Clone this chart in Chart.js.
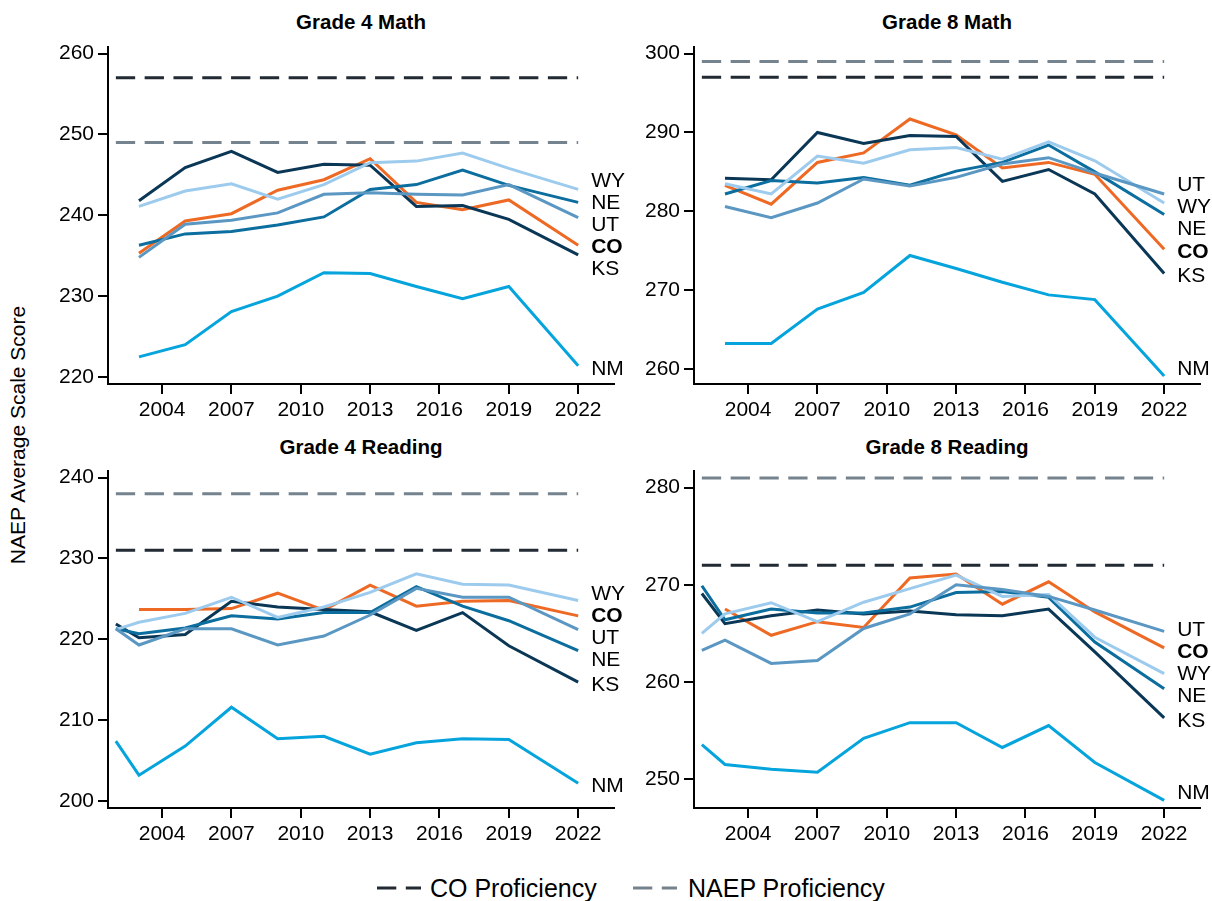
<!DOCTYPE html>
<html><head><meta charset="utf-8">
<script src="https://cdn.jsdelivr.net/npm/chart.js@4.4.1/dist/chart.umd.min.js"></script>
<style>
html,body{margin:0;padding:0;background:#fff;width:1212px;height:901px;overflow:hidden;font-family:'Liberation Sans',Arial,sans-serif;color:#000;}
canvas{position:absolute;}
.ptitle{position:absolute;width:506px;text-align:center;font-weight:bold;font-size:20.5px;line-height:24px;}
#ytitle{position:absolute;left:-132px;top:423px;width:300px;height:24px;line-height:24px;text-align:center;font-size:21px;transform:rotate(-90deg);transform-origin:50% 50%;}
.leg{position:absolute;font-size:25px;line-height:28px;}
.legsw{position:absolute;}
</style></head><body>
<div class="ptitle" style="left:108px;top:10px">Grade 4 Math</div>
<div class="ptitle" style="left:694px;top:10px">Grade 8 Math</div>
<div class="ptitle" style="left:108px;top:435px">Grade 4 Reading</div>
<div class="ptitle" style="left:694px;top:435px">Grade 8 Reading</div>
<div id="ytitle">NAEP Average Scale Score</div>
<canvas id="c1" width="626" height="404" style="left:8px;top:30px"></canvas>
<canvas id="c2" width="618" height="404" style="left:594px;top:30px"></canvas>
<canvas id="c3" width="626" height="404" style="left:8px;top:454px"></canvas>
<canvas id="c4" width="618" height="404" style="left:594px;top:454px"></canvas>
<svg class="legsw" style="left:377px;top:885px" width="44" height="6"><line x1="0" y1="3" x2="44" y2="3" stroke="#222a33" stroke-width="3" stroke-dasharray="19.3 9.5"/></svg>
<div class="leg" style="left:430px;top:874px">CO Proficiency</div>
<svg class="legsw" style="left:633px;top:885px" width="44" height="6"><line x1="0" y1="3" x2="44" y2="3" stroke="#75838f" stroke-width="3" stroke-dasharray="19.3 9.5"/></svg>
<div class="leg" style="left:688px;top:874px">NAEP Proficiency</div>
<script>
// ---------- data ----------
const mathYears = [2003, 2005, 2007, 2009, 2011, 2013, 2015, 2017, 2019, 2022];
const readYears = [2002, 2003, 2005, 2007, 2009, 2011, 2013, 2015, 2017, 2019, 2022];
const xTickYears = [2004, 2007, 2010, 2013, 2016, 2019, 2022];
const profYears = [2002, 2022];

const g4mKS = [241.8, 245.9, 247.9, 245.3, 246.3, 246.2, 241.1, 241.2, 239.5, 235.1];
const g4mNE = [236.3, 237.7, 238.0, 238.8, 239.8, 243.2, 243.8, 245.6, 243.7, 241.6];
const g4mUT = [234.8, 238.9, 239.4, 240.3, 242.6, 242.8, 242.6, 242.5, 243.8, 239.7];
const g4mWY = [241.1, 243.0, 243.9, 242.0, 243.8, 246.5, 246.7, 247.7, 245.8, 243.2];
const g4mCO = [235.3, 239.3, 240.2, 243.1, 244.4, 247.0, 241.6, 240.7, 241.9, 236.3];
const g4mNM = [222.5, 224.0, 228.1, 230.0, 232.9, 232.8, 231.2, 229.7, 231.2, 221.4];
const g4mProf = {co: 257, naep: 249};
const g4mTicks = [220, 230, 240, 250, 260];

const g8mKS = [284.2, 284.0, 290.0, 288.6, 289.6, 289.5, 283.8, 285.3, 282.2, 272.1];
const g8mNE = [282.2, 283.9, 283.6, 284.3, 283.3, 285.1, 286.2, 288.4, 285.0, 279.6];
const g8mUT = [280.6, 279.2, 281.05, 284.1, 283.2, 284.3, 286.0, 286.8, 284.85, 282.2];
const g8mWY = [283.5, 282.2, 287.0, 286.1, 287.8, 288.1, 286.6, 288.8, 286.4, 281.05];
const g8mCO = [283.3, 280.9, 286.2, 287.4, 291.7, 289.7, 285.5, 286.2, 284.7, 275.2];
const g8mNM = [263.25, 263.25, 267.6, 269.7, 274.4, 272.75, 271.0, 269.4, 268.8, 259.1];
const g8mProf = {co: 297, naep: 299};
const g8mTicks = [260, 270, 280, 290, 300];

const g4rKS = [221.9, 220.2, 220.6, 224.7, 224.0, 223.7, 223.4, 221.1, 223.3, 219.2, 214.7];
const g4rNE = [221.3, 220.7, 221.4, 222.9, 222.5, 223.3, 223.3, 226.5, 224.1, 222.3, 218.6];
const g4rUT = [221.3, 219.3, 221.3, 221.3, 219.3, 220.4, 223.0, 226.3, 225.2, 225.2, 221.2];
const g4rWY = [221.2, 222.1, 223.2, 225.2, 222.7, 224.0, 225.8, 228.1, 226.8, 226.7, 224.8];
const g4rCO = [null, 223.7, 223.7, 223.8, 225.7, 223.6, 226.7, 224.1, 224.7, 224.8, 222.9];
const g4rNM = [207.4, 203.2, 206.8, 211.6, 207.7, 208.0, 205.8, 207.2, 207.7, 207.6, 202.2];
const g4rProf = {co: 231, naep: 238};
const g4rTicks = [200, 210, 220, 230, 240];

const g8rKS = [269.1, 266.0, 266.8, 267.4, 267.0, 267.3, 266.9, 266.8, 267.5, 263.1, 256.3];
const g8rNE = [269.9, 266.4, 267.5, 267.1, 267.1, 267.7, 269.2, 269.3, 268.7, 264.1, 259.3];
const g8rUT = [263.25, 264.3, 261.9, 262.2, 265.5, 267.0, 270.0, 269.5, 268.8, 267.4, 265.2];
const g8rWY = [265.0, 267.0, 268.15, 266.2, 268.2, 269.6, 271.0, 268.8, 269.0, 264.6, 260.85];
const g8rCO = [null, 267.5, 264.8, 266.2, 265.6, 270.7, 271.1, 268.0, 270.3, 267.2, 263.5];
const g8rNM = [253.55, 251.5, 251.0, 250.7, 254.2, 255.8, 255.8, 253.25, 255.5, 251.7, 247.8];
const g8rProf = {co: 272, naep: 281};
const g8rTicks = [250, 260, 270, 280];

// ---------- styles ----------
const FONT = "'Liberation Sans', Arial, sans-serif";
const COLORS = {KS:'#0b3756', NE:'#0b6e9f', UT:'#5b97c3', WY:'#9dcbed', NM:'#06a4dc', CO:'#ee6a24', coProf:'#222a33', naepProf:'#75838f'};
const X_MIN = 2001.66, X_MAX = 2023.55;

const endLabelPlugin = {
  id: 'endLabels',
  afterDatasetsDraw(chart) {
    const {ctx, chartArea} = chart;
    const gap = 22;
    const items = [];
    chart.data.datasets.forEach((ds) => {
      if (!ds.endLabel) return;
      const last = ds.data[ds.data.length - 1];
      items.push({text: ds.endLabel, bold: !!ds.endBold,
        x: chart.scales.x.getPixelForValue(last.x),
        target: chart.scales.y.getPixelForValue(last.y)});
    });
    items.sort((a, b) => a.target - b.target);
    const clusters = items.map(m => ({members: [m]}));
    const lay = c => {
      const ctr = c.members.reduce((s, m) => s + m.target, 0) / c.members.length;
      c.top = ctr - (c.members.length - 1) * gap / 2;
      c.bottom = c.top + (c.members.length - 1) * gap;
    };
    clusters.forEach(lay);
    let merged = true;
    while (merged) {
      merged = false;
      for (let i = 0; i < clusters.length - 1; i++) {
        if (clusters[i + 1].top - clusters[i].bottom < gap) {
          clusters[i].members = clusters[i].members.concat(clusters[i + 1].members);
          clusters.splice(i + 1, 1);
          lay(clusters[i]);
          merged = true;
          break;
        }
      }
    }
    clusters.forEach(c => c.members.forEach((m, k) => {
      m.pos = Math.min(c.top + k * gap, chartArea.bottom - 18) + 3;
    }));
    ctx.save();
    ctx.fillStyle = '#000';
    ctx.textBaseline = 'middle';
    ctx.textAlign = 'left';
    items.forEach(m => {
      ctx.font = (m.bold ? 'bold ' : '') + '21px ' + FONT;
      ctx.fillText(m.text, m.x + 13, m.pos);
    });
    ctx.restore();
  }
};

function series(years, vals) {
  return years.map((y, i) => ({x: y, y: vals[i]}));
}

function makePanel(id, years, s, prof, yTicks, yMin, yMax, rightPad) {
  const line = (label, vals, color, extra) => Object.assign({
    label, data: series(years, vals), borderColor: color, backgroundColor: color,
    borderWidth: 3, pointRadius: 0, tension: 0, fill: false, spanGaps: false
  }, extra || {});
  const datasets = [
    {label: 'CO Proficiency', data: series(profYears, [prof.co, prof.co]), borderColor: COLORS.coProf,
     borderWidth: 3, borderDash: [19.3, 9.5], pointRadius: 0, fill: false},
    {label: 'NAEP Proficiency', data: series(profYears, [prof.naep, prof.naep]), borderColor: COLORS.naepProf,
     borderWidth: 3, borderDash: [19.3, 9.5], pointRadius: 0, fill: false},
    line('NM', s.NM, COLORS.NM, {endLabel: 'NM'}),
    line('UT', s.UT, COLORS.UT, {endLabel: 'UT'}),
    line('WY', s.WY, COLORS.WY, {endLabel: 'WY'}),
    line('NE', s.NE, COLORS.NE, {endLabel: 'NE'}),
    line('KS', s.KS, COLORS.KS, {endLabel: 'KS'}),
    line('CO', s.CO, COLORS.CO, {endLabel: 'CO', endBold: true})
  ];
  return new Chart(document.getElementById(id), {
    type: 'line',
    data: {datasets},
    plugins: [endLabelPlugin],
    options: {
      responsive: false, animation: false, events: [],
      devicePixelRatio: 1,
      layout: {padding: {top: 16, left: 0, right: rightPad, bottom: 0}},
      plugins: {legend: {display: false}, tooltip: {enabled: false}, title: {display: false}},
      scales: {
        x: {
          type: 'linear', min: X_MIN, max: X_MAX,
          afterBuildTicks: sc => { sc.ticks = xTickYears.map(v => ({value: v})); },
          afterFit: sc => { sc.height = 50; },
          ticks: {callback: v => String(v), color: '#000', padding: 4, maxRotation: 0, autoSkip: false,
                  font: {family: FONT, size: 21}},
          grid: {drawOnChartArea: false, drawTicks: true, tickLength: 10, color: '#000', lineWidth: 2},
          border: {display: true, color: '#000', width: 2}
        },
        y: {
          type: 'linear', min: yMin, max: yMax,
          afterBuildTicks: sc => { sc.ticks = yTicks.map(v => ({value: v})); },
          afterFit: sc => { sc.width = 100; },
          ticks: {callback: v => String(v), color: '#000', padding: 4, font: {family: FONT, size: 21}},
          grid: {drawOnChartArea: false, drawTicks: true, tickLength: 10, color: '#000', lineWidth: 2},
          border: {display: true, color: '#000', width: 2}
        }
      }
    }
  });
}

makePanel('c1', mathYears, {KS: g4mKS, NE: g4mNE, UT: g4mUT, WY: g4mWY, CO: g4mCO, NM: g4mNM}, g4mProf, g4mTicks, 219.14, 260.86, 20);
makePanel('c2', mathYears, {KS: g8mKS, NE: g8mNE, UT: g8mUT, WY: g8mWY, CO: g8mCO, NM: g8mNM}, g8mProf, g8mTicks, 258.1, 300.886, 12);
makePanel('c3', readYears, {KS: g4rKS, NE: g4rNE, UT: g4rUT, WY: g4rWY, CO: g4rCO, NM: g4rNM}, g4rProf, g4rTicks, 199.14, 240.86, 20);
makePanel('c4', readYears, {KS: g8rKS, NE: g8rNE, UT: g8rUT, WY: g8rWY, CO: g8rCO, NM: g8rNM}, g8rProf, g8rTicks, 247.02, 281.75, 12);
</script>
</body></html>
